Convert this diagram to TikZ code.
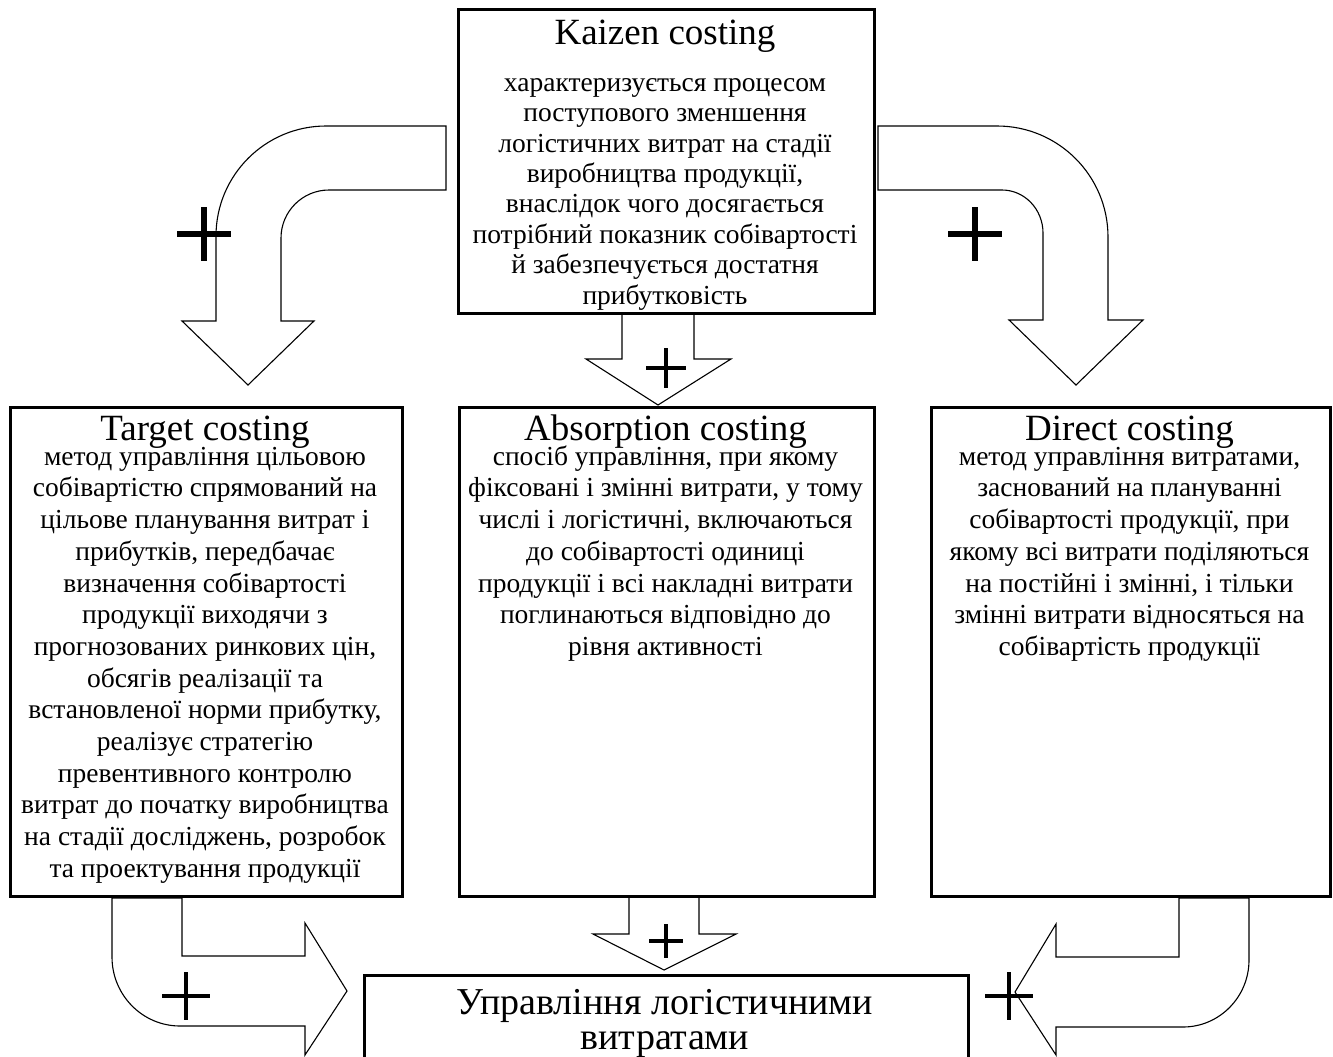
\documentclass[tikz,border=0pt]{standalone}
\usepackage{fontspec}
\setmainfont{Liberation Serif}
\begin{document}
\begin{tikzpicture}[x=1pt,y=-1pt,
  box/.style={draw, line width=3pt, rectangle, inner sep=0pt, anchor=north west},
  boxtext/.style={anchor=north, inner sep=0pt, align=center, font=\fontsize{27.5}{31.7}\selectfont},
  blockarrow/.style={draw, fill=white, line width=1.1pt, line join=miter},
]
\newcommand\plusmark[4]{\draw[line width=#4] (#1-#3,#2) -- (#1+#3,#2) (#1,#2-#3) -- (#1,#2+#3);}
\newcommand\headline[1]{{\fontsize{37}{42}\selectfont\rule{0pt}{26pt}#1}}
\useasboundingbox (0,0) rectangle (1333,1057);

% bent block arrows from the top box
\draw[blockarrow] (446,126) -- (326,126)
  .. controls (265.3,126) and (216,175.3) .. (216,236)
  -- (216,321) -- (182,321) -- (248,385) -- (314,321) -- (281,321) -- (281,238)
  .. controls (281,211.5) and (302.5,190) .. (329,190) -- (446,190) -- cycle;
\draw[blockarrow] (878,126) -- (997,126)
  .. controls (1058.3,126) and (1108,175.7) .. (1108,237)
  -- (1108,320) -- (1143,320) -- (1076,385) -- (1009,320) -- (1043,320) -- (1043,233)
  .. controls (1043,209.3) and (1024.6,190) .. (1002,190) -- (878,190) -- cycle;

% straight block arrows in the middle column
\draw[blockarrow] (622,313) -- (694,313) -- (694,359) -- (731,359) -- (658,405)
  -- (586,359) -- (622,359) -- cycle;
\draw[blockarrow] (629,897) -- (699,897) -- (699,934) -- (736,934) -- (664,970)
  -- (593,934) -- (629,934) -- cycle;

% bent block arrows into the bottom box
\draw[blockarrow] (112,898) -- (182,898) -- (182,956) -- (305,956) -- (305,923)
  -- (347,991) -- (305,1055) -- (305,1026) -- (180,1026)
  .. controls (142.5,1026) and (112,995.1) .. (112,957) -- cycle;
\draw[blockarrow] (1249,898) -- (1179,898) -- (1179,957) -- (1056,957) -- (1056,924)
  -- (1015,992) -- (1056,1055) -- (1056,1027) -- (1183,1027)
  .. controls (1219.4,1027) and (1249,997) .. (1249,960) -- cycle;

% boxes
\node[box, minimum width=416pt, minimum height=304pt] (kaizen) at (457,8) {};
\node[box, minimum width=392pt, minimum height=489pt] (target) at (9,406) {};
\node[box, minimum width=415pt, minimum height=489pt] (absorb) at (458,406) {};
\node[box, minimum width=399pt, minimum height=489pt] (direct) at (930,406) {};
\node[box, minimum width=604pt, minimum height=120pt] (mgmt) at (363,974) {};

% texts
\node[boxtext, font=\fontsize{27.5}{30.4}\selectfont] (kaizenT) at (665,18) {\headline{Kaizen costing}\\[16.6pt]
характеризується процесом\\
поступового зменшення\\
логістичних витрат на стадії\\
виробництва продукції,\\
внаслідок чого досягається\\
потрібний показник собівартості\\
й забезпечується достатня\\
прибутковість};

\node[boxtext] (targetT) at (205,414) {\headline{Target costing}\\[-6.7pt]
метод управління цільовою\\
собівартістю спрямований на\\
цільове планування витрат і\\
прибутків, передбачає\\
визначення собівартості\\
продукції виходячи з\\
прогнозованих ринкових цін,\\
обсягів реалізації та\\
встановленої норми прибутку,\\
реалізує стратегію\\
превентивного контролю\\
витрат до початку виробництва\\
на стадії досліджень, розробок\\
та проектування продукції};

\node[boxtext] (absorbT) at (665.5,414) {\headline{Absorption costing}\\[-6.7pt]
спосіб управління, при якому\\
фіксовані і змінні витрати, у тому\\
числі і логістичні, включаються\\
до собівартості одиниці\\
продукції і всі накладні витрати\\
поглинаються відповідно до\\
рівня активності};

\node[boxtext] (directT) at (1129.5,414) {\headline{Direct costing}\\[-6.7pt]
метод управління витратами,\\
заснований на плануванні\\
собівартості продукції, при\\
якому всі витрати поділяються\\
на постійні і змінні, і тільки\\
змінні витрати відносяться на\\
собівартість продукції};

\node[anchor=north, inner sep=0pt, align=center, font=\fontsize{38}{35}\selectfont]
  (mgmtT) at (665,989) {\strut Управління логістичними\\ витратами};

% plus signs
\plusmark{204}{234}{27}{6pt}
\plusmark{975}{234}{27}{6pt}
\plusmark{666}{368}{20}{4pt}
\plusmark{666}{941}{17}{3.5pt}
\plusmark{186}{996}{24}{4.5pt}
\plusmark{1009}{996}{24}{4.5pt}
\end{tikzpicture}
\end{document}
